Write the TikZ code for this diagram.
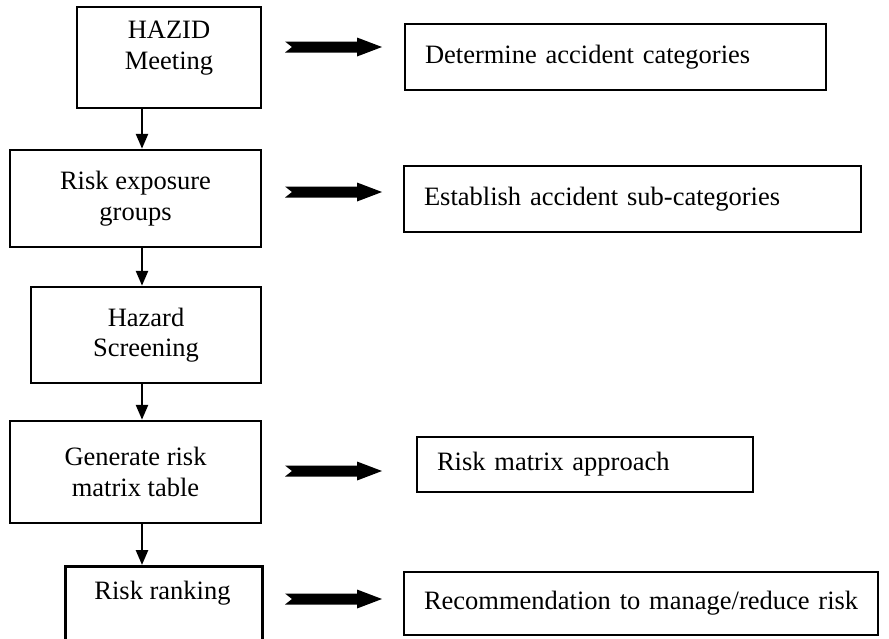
\documentclass[tikz,border=0pt]{standalone}
\usepackage{fontspec}
\setmainfont{Liberation Serif}
\usetikzlibrary{arrows.meta}
\begin{document}
\begin{tikzpicture}[x=1pt,y=-1pt,
  txt/.style={font=\fontsize{26.5}{30.5}\selectfont},
  lbox/.style={txt, draw, line width=2.5pt, inner sep=0pt, align=center},
  rbox/.style={txt, draw, line width=1.8pt, inner xsep=20pt, inner ysep=0pt, align=left},
  down/.style={line width=2.5pt, -{Triangle[width=12pt,length=15pt]}},
  fat/.pic={\fill[black] (0,-5.5) -- (72,-5.5) -- (72,-9.5) -- (97,0) -- (72,9.5) -- (72,5.5) -- (0,5.5) -- (7,0) -- cycle;}
]
\useasboundingbox (0,0) rectangle (889,638);
\clip (0,0) rectangle (889,638);
\fill[white] (0,0) rectangle (889,638);

% left column
\node[lbox, minimum width=184pt, minimum height=101pt] (b1) at (169,57.5) {HAZID\\Meeting\\[-6pt]};
\node[lbox, minimum width=251pt, minimum height=97pt] (b2) at (135.5,198.5) {Risk exposure\\groups};
\node[lbox, minimum width=230pt, minimum height=96pt] (b3) at (146,335) {Hazard\\Screening};
\node[lbox, minimum width=251pt, minimum height=102pt] (b4) at (135.5,472) {Generate risk\\matrix table};
\node[lbox, minimum width=197pt, minimum height=110pt, anchor=north west] (b5) at (64,565) {};
\node[txt, anchor=base] (b5t) at (162.5,599) {Risk ranking};

% right column
\node[rbox, text width=381pt, minimum height=66pt] (r1) at (615.5,57) {\mbox{Determine accident categories}};
\node[rbox, text width=417pt, minimum height=66pt] (r2) at (632.5,199) {\mbox{Establish accident sub-categories}};
\node[rbox, line width=2.5pt, text width=296pt, minimum height=55pt] (r3) at (585,464.5) {\mbox{Risk matrix approach}};
\node[rbox, text width=434pt, minimum height=63pt] (r4) at (641,603.5) {\mbox{Recommendation to manage/reduce risk}};

% down arrows
\coordinate (ax) at (142,0);
\draw[down] (b1.south -| ax) -- (b2.north -| ax);
\draw[down] (b2.south -| ax) -- (b3.north -| ax);
\draw[down] (b3.south -| ax) -- (b4.north -| ax);
\draw[down] (b4.south -| ax) -- (b5.north -| ax);

% block arrows
\pic (f1) at (285,47) {fat};
\pic (f2) at (285,192) {fat};
\pic (f3) at (285,471) {fat};
\pic (f4) at (285,599) {fat};
\end{tikzpicture}
\end{document}
